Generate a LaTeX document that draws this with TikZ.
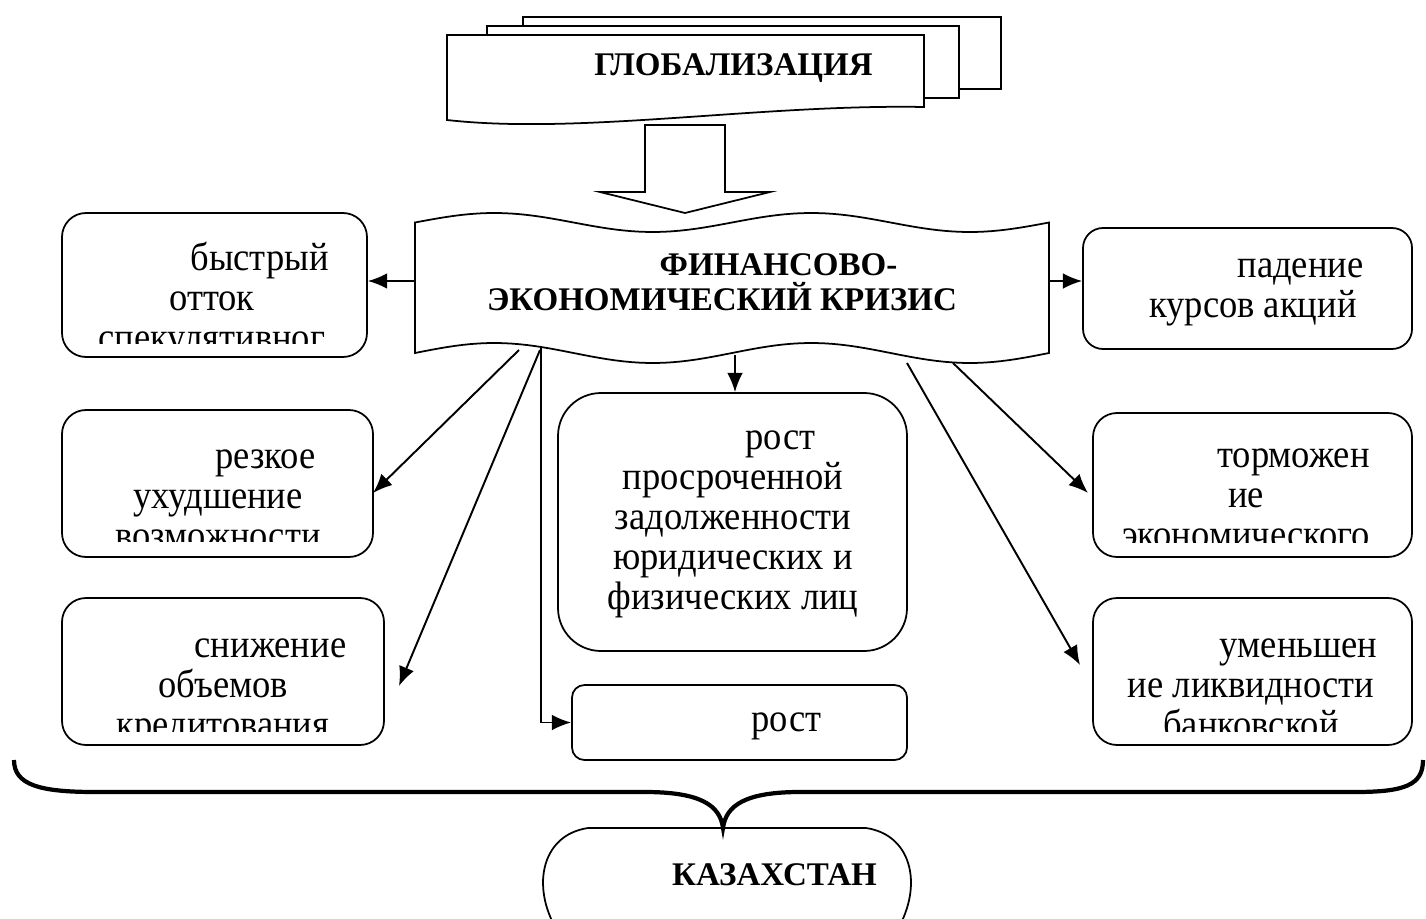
\documentclass[tikz,border=0pt]{standalone}
\usepackage{fontspec}
\setmainfont{Liberation Serif}[FakeStretch=0.92]
\newfontfamily\headfont{Liberation Serif}
\usetikzlibrary{arrows.meta,fit}

\tikzset{
  BoxStyle/.style={draw, line width=1pt, rounded corners=0.48cm, inner sep=0pt},
  ShapeStyle/.style={draw, line width=1pt, fill=white},
  TxtStyle/.style={align=center, inner sep=0pt, anchor=base, font=\fontsize{22.6}{22.76}\selectfont},
  HeadStyle/.style={TxtStyle, font=\headfont\fontsize{18.8}{19.9}\selectfont\bfseries},
  ArrowStyle/.style={-{Latex[length=11pt,width=9pt]}, line width=1.1pt},
}
\newcommand{\ind}{\hspace*{1.9cm}}

\begin{document}
\begin{tikzpicture}[x=0.02cm, y=-0.02cm]
        \clip (0,0) rectangle (1426,919);
        % globalization
        \draw[ShapeStyle] (523,17) rectangle (1001,89);
        \draw[ShapeStyle] (487,26) rectangle (959,98);
        \draw[ShapeStyle] (447,35) -- (924,35) -- (924,107) .. controls (760,104) and (580,135) .. (447,120) -- cycle;
        \node[HeadStyle] (glob) at (686,76) {\ind ГЛОБАЛИЗАЦИЯ};
        \draw[ShapeStyle] (645,125) -- (725,125) -- (725,192) -- (770,192) -- (685,213) -- (600,192) -- (645,192) -- cycle;
        % crisis
        \draw[ShapeStyle] plot[domain=0:634, samples=80] (\x+415, {222.5-9.5*sin(1.1356*\x)})
          -- plot[domain=634:0, samples=80] (\x+415, {353-10*sin(1.1356*\x)}) -- cycle;
        \node[HeadStyle] (crisis) at (722,310) {\hspace*{2.26cm}ФИНАНСОВО-\\ЭКОНОМИЧЕСКИЙ КРИЗИС};
        % boxes left
        \node[BoxStyle, fit={(62,213) (367,357)}] (left1) {};
        \node[BoxStyle, fit={(62,410) (373,557)}] (left2) {};
        \node[BoxStyle, fit={(62,598) (384,745)}] (left3) {};
        % boxes middle
        \node[BoxStyle, rounded corners=0.86cm, fit={(558,393) (907,651)}] (mid1) {};
        \node[BoxStyle, rounded corners=0.25cm, fit={(572,685) (907,760)}] (mid2) {};
        % boxes right
        \node[BoxStyle, rounded corners=0.4cm, fit={(1083,228) (1412,349)}] (right1) {};
        \node[BoxStyle, fit={(1093,413) (1412,557)}] (right2) {};
        \node[BoxStyle, fit={(1093,598) (1412,745)}] (right3) {};
        % texts
        \begin{scope}
          \clip (62,213) rectangle (367,343);
          \node[TxtStyle] (left1txt) at (212,350) {\ind быстрый\\отток\\спекулятивног};
        \end{scope}
        \begin{scope}
          \clip (62,410) rectangle (373,541);
          \node[TxtStyle] (left2txt) at (218,548) {\ind резкое\\ухудшение\\возможности};
        \end{scope}
        \begin{scope}
          \clip (62,598) rectangle (384,731);
          \node[TxtStyle] (left3txt) at (223,737) {\ind снижение\\объемов\\кредитования};
        \end{scope}
        \node[TxtStyle] (mid1txt) at (733,609) {\ind рост\\просроченной\\задолженности\\юридических и\\физических лиц};
        \node[TxtStyle] (mid2txt) at (739,731) {\ind рост};
        \node[TxtStyle] (right1txt) at (1253,317) {\ind падение\\курсов акций};
        \begin{scope}
          \clip (1093,413) rectangle (1412,542);
          \node[TxtStyle] (right2txt) at (1246,547) {\ind торможен\\ие\\экономического};
        \end{scope}
        \begin{scope}
          \clip (1093,598) rectangle (1412,731);
          \node[TxtStyle] (right3txt) at (1251,737) {\ind уменьшен\\ие ликвидности\\банковской};
        \end{scope}
        % connector ends
        \coordinate (crL) at (415,281);
        \coordinate (crR) at (1049,281);
        \coordinate (crB) at (735,355);
        \coordinate (s1) at (519,350);
        \coordinate (s2) at (540,350);
        \coordinate (s3) at (541,348);
        \coordinate (s4) at (907,363);
        \coordinate (s5) at (953,363);
        \coordinate (e1) at (373,493);
        \coordinate (e2) at (399,686);
        \coordinate (e4) at (1080,665);
        \coordinate (e5) at (1088,493);
        % arrows
        \draw[ArrowStyle] (crL) -- (crL -| left1.east);
        \draw[ArrowStyle] (crR) -- (crR -| right1.west);
        \draw[ArrowStyle] (crB) -- (crB |- mid1.north);
        \draw[ArrowStyle] (s1) -- (e1);
        \draw[ArrowStyle] (s2) -- (e2);
        \draw[ArrowStyle] (s3) |- (mid2.west);
        \draw[ArrowStyle] (s4) -- (e4);
        \draw[ArrowStyle] (s5) -- (e5);
        % brace
        \coordinate (cusp) at (723,828);
        \draw[line width=2.4pt] (14,760) .. controls (14,785) and (40,792) .. (95,792) -- (645,792)
          .. controls (700,792) and (720,805) .. (cusp)
          .. controls (726,805) and (746,792) .. (800,792) -- (1355,792)
          .. controls (1405,792) and (1423,785) .. (1423,760);
        % kazakhstan
        \draw[line width=1pt] (560,935) .. controls (530,890) and (540,835) .. (588,828) -- (866,828)
          .. controls (914,835) and (924,890) .. (894,935);
        \node[HeadStyle] (kz) at (727,885) {\ind КАЗАХСТАН};
\end{tikzpicture}
\end{document}
